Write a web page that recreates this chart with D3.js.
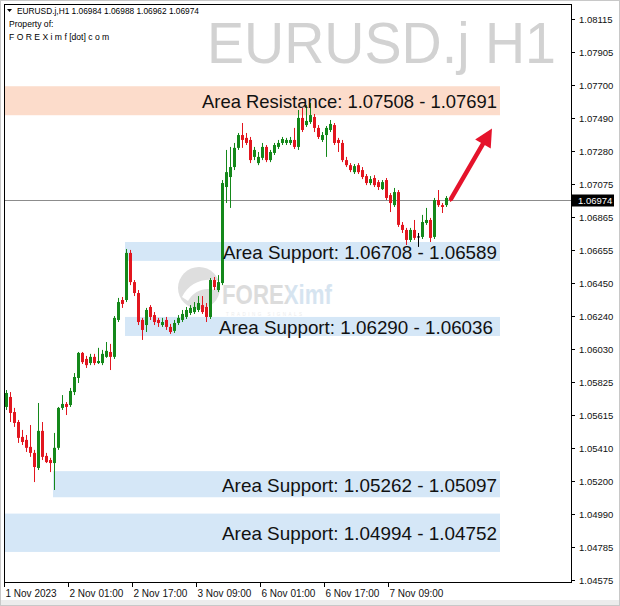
<!DOCTYPE html>
<html><head><meta charset="utf-8">
<script src="https://cdn.jsdelivr.net/npm/d3@7"></script>
<style>html,body{margin:0;padding:0;background:#fff;} svg{display:block}</style>
</head><body><svg id="c" width="620" height="606"></svg>
<script>
const symbolName = "EURUSD.j,H1";
const watermark = "EURUSD.j H1";
const lastOHLC = ["1.06984","1.06988","1.06962","1.06974"];
const lastPrice = 1.06974;

const open = [1.05667,1.05730,1.05635,1.05572,1.05478,1.05459,1.05415,1.05377,1.05282,1.05516,
1.05358,1.05332,1.05313,1.05409,1.05661,1.05686,1.05679,1.05761,1.05850,1.06008,
1.05970,1.05944,1.05983,1.05944,1.05944,1.05983,1.06014,1.05983,1.06216,1.06342,
1.06342,1.06639,1.06455,1.06386,1.06216,1.06184,1.06298,1.06247,1.06216,1.06184,
1.06216,1.06172,1.06147,1.06197,1.06216,1.06235,1.06260,1.06266,1.06279,1.06310,
1.06298,1.06235,1.06468,1.06405,1.06449,1.07055,1.07118,1.07181,1.07302,1.07383,
1.07365,1.07352,1.07245,1.07206,1.07239,1.07308,1.07225,1.07270,1.07308,1.07333,
1.07333,1.07333,1.07352,1.07308,1.07491,1.07446,1.07465,1.07497,1.07428,1.07352,
1.07383,1.07415,1.07446,1.07352,1.07333,1.07225,1.07193,1.07149,1.07193,1.07162,
1.07124,1.07080,1.07112,1.07086,1.07042,1.07099,1.07004,1.06941,1.07023,1.06816,
1.06784,1.06721,1.06784,1.06743,1.06740,1.06828,1.06847,1.06740,1.06973,1.06941,
1.06941,1.06984];
const high = [1.05774,1.05761,1.05661,1.05585,1.05522,1.05490,1.05553,1.05396,1.05692,1.05572,
1.05377,1.05346,1.05503,1.05667,1.05742,1.05698,1.05787,1.05881,1.06014,1.06014,
1.05989,1.06002,1.06002,1.06040,1.06027,1.06077,1.06065,1.06241,1.06355,1.06361,
1.06664,1.06658,1.06468,1.06405,1.06229,1.06292,1.06310,1.06266,1.06229,1.06229,
1.06235,1.06191,1.06216,1.06247,1.06279,1.06298,1.06310,1.06329,1.06367,1.06367,
1.06323,1.06481,1.06487,1.06499,1.07099,1.07289,1.07308,1.07333,1.07396,1.07459,
1.07396,1.07371,1.07308,1.07276,1.07333,1.07320,1.07289,1.07333,1.07352,1.07371,
1.07365,1.07371,1.07428,1.07541,1.07554,1.07572,1.07585,1.07516,1.07446,1.07402,
1.07440,1.07478,1.07459,1.07365,1.07352,1.07245,1.07206,1.07200,1.07206,1.07181,
1.07137,1.07124,1.07130,1.07099,1.07099,1.07112,1.07017,1.07049,1.07036,1.06834,
1.06797,1.06797,1.06847,1.06765,1.06879,1.06923,1.06860,1.06986,1.07036,1.06954,
1.06998,1.06988];
const low = [1.05648,1.05572,1.05541,1.05440,1.05427,1.05383,1.05352,1.05193,1.05269,1.05332,
1.05313,1.05256,1.05143,1.05396,1.05648,1.05616,1.05667,1.05742,1.05818,1.05938,
1.05913,1.05931,1.05931,1.05938,1.05931,1.05977,1.05900,1.05970,1.06203,1.06292,
1.06329,1.06436,1.06367,1.06184,1.06090,1.06140,1.06216,1.06184,1.06172,1.06172,
1.06153,1.06128,1.06134,1.06184,1.06203,1.06222,1.06247,1.06254,1.06266,1.06254,
1.06203,1.06222,1.06405,1.06392,1.06436,1.06954,1.06923,1.07162,1.07289,1.07302,
1.07320,1.07206,1.07225,1.07193,1.07225,1.07212,1.07212,1.07257,1.07295,1.07320,
1.07320,1.07320,1.07295,1.07289,1.07402,1.07434,1.07453,1.07402,1.07358,1.07339,
1.07245,1.07402,1.07320,1.07276,1.07212,1.07181,1.07149,1.07137,1.07137,1.07105,
1.07067,1.07067,1.07055,1.07036,1.07036,1.06973,1.06897,1.06929,1.06803,1.06765,
1.06689,1.06708,1.06721,1.06677,1.06727,1.06816,1.06708,1.06727,1.06929,1.06891,
1.06929,1.06962];
const close = [1.05755,1.05629,1.05566,1.05472,1.05446,1.05409,1.05377,1.05288,1.05516,1.05352,
1.05319,1.05313,1.05409,1.05661,1.05686,1.05667,1.05768,1.05856,1.06008,1.05950,
1.05931,1.05983,1.05944,1.05957,1.06002,1.06021,1.05983,1.06229,1.06329,1.06317,
1.06639,1.06455,1.06386,1.06203,1.06153,1.06279,1.06235,1.06203,1.06197,1.06203,
1.06172,1.06140,1.06197,1.06229,1.06254,1.06279,1.06292,1.06298,1.06323,1.06266,
1.06235,1.06468,1.06424,1.06455,1.07080,1.07149,1.07181,1.07302,1.07383,1.07352,
1.07333,1.07225,1.07289,1.07245,1.07308,1.07225,1.07276,1.07320,1.07333,1.07358,
1.07352,1.07352,1.07308,1.07491,1.07415,1.07472,1.07509,1.07428,1.07371,1.07383,
1.07428,1.07453,1.07333,1.07333,1.07225,1.07193,1.07162,1.07187,1.07149,1.07118,
1.07080,1.07105,1.07067,1.07055,1.07086,1.06986,1.06954,1.07023,1.06816,1.06784,
1.06721,1.06784,1.06734,1.06743,1.06834,1.06847,1.06734,1.06973,1.06941,1.06929,
1.06986,1.06974];

const yTicks = [1.08115,1.07905,1.07700,1.07490,1.07280,1.07075,1.06865,1.06655,1.06450,
1.06240,1.06030,1.05825,1.05615,1.05410,1.05200,1.04990,1.04785,1.04575];
const yTickLabels = ["1.08115","1.07905","1.07700","1.07490","1.07280","1.07075","1.06865","1.06655","1.06450",
"1.06240","1.06030","1.05825","1.05615","1.05410","1.05200","1.04990","1.04785","1.04575"];
const xTickIdx = [0,16,32,48,64,80,96];
const xTickLabels = ["1 Nov 2023","2 Nov 01:00","2 Nov 17:00","3 Nov 09:00","6 Nov 01:00","6 Nov 17:00","7 Nov 09:00"];

const zoneLabels = ["Area Resistance: 1.07508 - 1.07691","Area Support: 1.06708 - 1.06589",
"Area Support: 1.06290 - 1.06036","Area Support: 1.05262 - 1.05097","Area Support: 1.04994 - 1.04752"];
const zoneTop = [1.07691,1.06708,1.06235,1.05262,1.04994];
const zoneBottom = [1.07508,1.06589,1.06115,1.05097,1.04752];
const zoneStart = [-0.25,29.75,29.75,11.75,-0.25];
const zoneEnd = [123.5,123.5,123.5,123.5,123.5];
const zoneKind = ["resistance","support","support","support","support"];
const arrowFrom = [111.25,1.06980];
const arrowTo = [121.5,1.07425];

// ---- layout ----
const L = 4, R = 572, T = 4, B = 583;
const svg = d3.select("#c");
const x = d3.scaleLinear().domain([-0.5,141.5]).range([L,R]);
const y = d3.scaleLinear().domain([1.04556,1.08210]).range([B,T]);
const FONT = "'Liberation Sans', Arial, sans-serif";
const GREEN = "#14881a", RED = "#e2161f";

svg.append("rect").attr("x",0.5).attr("y",0.5).attr("width",619).attr("height",605)
  .attr("fill","#fff").attr("stroke","#c8c8c8");
svg.append("rect").attr("x",1).attr("y",600).attr("width",618).attr("height",5).attr("fill","#ececec");

const defs = svg.append("defs");
defs.append("clipPath").attr("id","plot").append("rect")
  .attr("x",L).attr("y",T).attr("width",R-L).attr("height",B-T);
const lg = defs.append("linearGradient").attr("id","logoFill").attr("gradientUnits","userSpaceOnUse")
  .attr("x1",222).attr("x2",332).attr("y1",0).attr("y2",0);
lg.append("stop").attr("offset","0.6").attr("stop-color","#dcdcdc");
lg.append("stop").attr("offset","0.6").attr("stop-color","#d6e4f0");
const plot = svg.append("g").attr("clip-path","url(#plot)");

// watermark symbol
plot.append("text").attr("x",207).attr("y",63).text(watermark)
  .attr("font-family",FONT).attr("font-size",57).attr("fill","#d2d2d2")
  .attr("textLength",349).attr("lengthAdjust","spacingAndGlyphs");

// zones
const zones = zoneLabels.map((t,i)=>({t,top:zoneTop[i],bot:zoneBottom[i],s:zoneStart[i],e:zoneEnd[i],k:zoneKind[i]}));
plot.selectAll("rect.zone").data(zones).join("rect").attr("class","zone")
  .attr("x",d=>x(d.s)).attr("width",d=>x(d.e)-x(d.s))
  .attr("y",d=>y(d.top)).attr("height",d=>y(d.bot)-y(d.top))
  .attr("fill",d=>d.k==="resistance"?"#fcdccb":"#d5e7f7");

// logo watermark
const logo = plot.append("g");
logo.append("circle").attr("cx",199).attr("cy",288).attr("r",21).attr("fill","#dedede");
logo.append("path").attr("d","M182,297 C189,282 205,277 219,281 L215,290 C204,287 194,291 188,301 Z").attr("fill","#fff");
logo.append("text").attr("x",222).attr("y",304).attr("font-family",FONT)
  .attr("font-weight","bold").attr("font-size",28).attr("fill","url(#logoFill)")
  .attr("textLength",110).attr("lengthAdjust","spacingAndGlyphs").text("FOREXimf");
logo.append("text").attr("x",226).attr("y",315.5).text("TRADING SIGNALS").attr("font-family",FONT)
  .attr("font-size",4.5).attr("letter-spacing",2.5).attr("fill","#ececec");

// current price line
plot.append("line").attr("x1",L).attr("x2",R).attr("y1",Math.round(y(lastPrice))+0.5).attr("y2",Math.round(y(lastPrice))+0.5)
  .attr("stroke","#8c8c8c").attr("stroke-width",1);

// candles
const bars = open.map((o,i)=>({i,o,h:high[i],l:low[i],c:close[i]}));
const col = d=> d.c>d.o?GREEN:(d.c<d.o?RED:"#000");
const cg = plot.append("g");
cg.selectAll("line.w").data(bars).join("line").attr("class","w")
  .attr("x1",d=>Math.round(x(d.i))+0.5).attr("x2",d=>Math.round(x(d.i))+0.5)
  .attr("y1",d=>y(d.h)).attr("y2",d=>y(d.l)).attr("stroke",col).attr("stroke-width",1);
cg.selectAll("rect.b").data(bars).join("rect").attr("class","b")
  .attr("x",d=>Math.round(x(d.i))-1).attr("width",3)
  .attr("y",d=>y(Math.max(d.o,d.c))).attr("height",d=>Math.max(1,y(Math.min(d.o,d.c))-y(Math.max(d.o,d.c))))
  .attr("fill",col);

// zone labels
const labelEnd = [497,497,493,497,497];
const labelLen = [295,274,274,275,275];
plot.selectAll("text.zl").data(zones).join("text").attr("class","zl")
  .attr("x",(d,i)=>labelEnd[i]-labelLen[i]).attr("y",d=>(y(d.top)+y(d.bot))/2+1)
  .attr("dominant-baseline","central")
  .attr("font-family",FONT).attr("font-size",18.5).attr("fill","#111")
  .attr("textLength",(d,i)=>labelLen[i]).attr("lengthAdjust","spacingAndGlyphs")
  .text(d=>d.t);

// arrow
const ax0 = x(arrowFrom[0]), ay0 = y(arrowFrom[1]), ax1 = x(arrowTo[0]), ay1 = y(arrowTo[1]);
const dx = ax1-ax0, dy = ay1-ay0, len = Math.hypot(dx,dy), ux = dx/len, uy = dy/len;
const headL = 18, headW = 9;
const bx = ax1-ux*headL, by = ay1-uy*headL;
plot.append("line").attr("x1",ax0).attr("y1",ay0).attr("x2",bx+ux*2).attr("y2",by+uy*2)
  .attr("stroke","#e5132b").attr("stroke-width",4.5).attr("stroke-linecap","round");
plot.append("path").attr("d",`M${ax1},${ay1} L${bx-uy*headW},${by+ux*headW} L${bx+uy*headW},${by-ux*headW} Z`)
  .attr("fill","#e5132b");

// frame
svg.append("rect").attr("x",L+0.5).attr("y",T+0.5).attr("width",R-L-1).attr("height",B-T-1)
  .attr("fill","none").attr("stroke","#000").attr("stroke-width",1);

// y axis
const ya = svg.append("g");
yTicks.forEach((v,i)=>{
  const yy = Math.round(y(v))+0.5;
  ya.append("line").attr("x1",R-1).attr("x2",R+3).attr("y1",yy).attr("y2",yy).attr("stroke","#000");
  ya.append("text").attr("x",579).attr("y",yy).attr("dominant-baseline","central")
    .attr("font-family",FONT).attr("font-size",9.5).attr("fill","#111").text(yTickLabels[i]);
});
// last price tag
const ly = Math.round(y(lastPrice))+0.5;
ya.append("rect").attr("x",572).attr("y",ly-6).attr("width",42).attr("height",12).attr("fill","#000");
ya.append("text").attr("x",578).attr("y",ly).attr("dominant-baseline","central")
  .attr("font-family",FONT).attr("font-size",9.5).attr("fill","#fff").text(lastOHLC[3]);

// x axis
const xa = svg.append("g");
xTickIdx.forEach((v,i)=>{
  const xx = Math.round(x(v))-1.5;
  xa.append("line").attr("x1",xx).attr("x2",xx).attr("y1",B).attr("y2",B+4).attr("stroke","#000");
  xa.append("text").attr("x",xx+1).attr("y",597).attr("font-family",FONT).attr("font-size",10)
    .attr("fill","#111").text(xTickLabels[i]);
});

// header
const hd = svg.append("g").attr("font-family",FONT).attr("font-size",8.6).attr("fill","#000");
hd.append("path").attr("d","M7,9 L12,9 L9.5,12 Z").attr("fill","#000");
hd.append("text").attr("x",17).attr("y",14).text(symbolName+"  "+lastOHLC.join(" "))
  .attr("textLength",182).attr("lengthAdjust","spacingAndGlyphs");
hd.append("text").attr("x",9).attr("y",27).text("Property of:");
hd.append("text").attr("x",9).attr("y",40).text("F O R E X i m f [dot] c o m");
</script></body></html>
